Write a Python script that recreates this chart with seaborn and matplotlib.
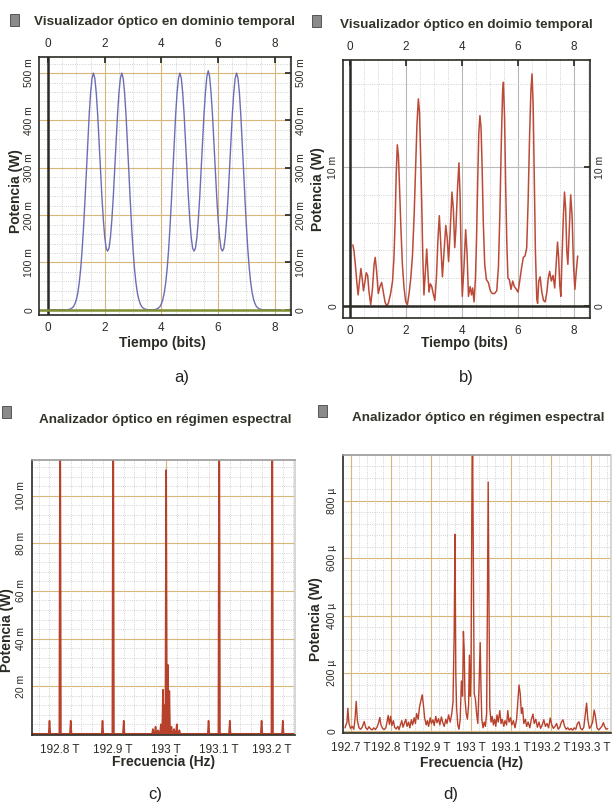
import numpy as np
import pandas as pd
import matplotlib
matplotlib.use('Agg')
import matplotlib.pyplot as plt
import seaborn as sns
from matplotlib.ticker import MultipleLocator, FixedLocator, FuncFormatter
from matplotlib.patches import Rectangle

sns.set_theme(style='white')
plt.rcParams['font.family'] = ['Liberation Sans', 'DejaVu Sans']

# ---- a) señal temporal de entrada (potencia en mW)
a_time = [0.0, 0.70, 0.75, 0.80, 0.85, 0.90, 0.95, 1.00, 1.05, 1.10, 1.15, 1.20, 1.25, 1.30, 1.35,
          1.40, 1.45, 1.50, 1.55, 1.60, 1.65, 1.70, 1.75, 1.80, 1.85, 1.90, 1.95, 2.00, 2.05,
          2.10, 2.15, 2.20, 2.25, 2.30, 2.35, 2.40, 2.45, 2.50, 2.55, 2.60, 2.65, 2.70, 2.75,
          2.80, 2.85, 2.90, 2.95, 3.00, 3.05, 3.10, 3.15, 3.20, 3.25, 3.30, 3.35, 3.40, 3.45,
          3.50, 3.75, 3.80, 3.85, 3.90, 3.95, 4.00, 4.05, 4.10, 4.15, 4.20, 4.25, 4.30, 4.35,
          4.40, 4.45, 4.50, 4.55, 4.60, 4.65, 4.70, 4.75, 4.80, 4.85, 4.90, 4.95, 5.00, 5.05,
          5.10, 5.15, 5.20, 5.25, 5.30, 5.35, 5.40, 5.45, 5.50, 5.55, 5.60, 5.65, 5.70, 5.75,
          5.80, 5.85, 5.90, 5.95, 6.00, 6.05, 6.10, 6.15, 6.20, 6.25, 6.30, 6.35, 6.40, 6.45,
          6.50, 6.55, 6.60, 6.65, 6.70, 6.75, 6.80, 6.85, 6.90, 6.95, 7.00, 7.05, 7.10, 7.15,
          7.20, 7.25, 7.30, 7.35, 7.40, 7.45, 7.50, 7.55, 8.20]
a_power = [0, 0, 1, 2, 4, 7, 13, 22, 36, 57, 86, 125, 173, 229, 291,
           353, 411, 458, 489, 500, 489, 458, 412, 355, 295, 238, 190, 153, 130,
           124, 130, 153, 190, 238, 295, 355, 412, 458, 489, 500, 489, 458, 411,
           353, 291, 229, 173, 125, 86, 57, 36, 22, 13, 7, 4, 2, 1,
           0, 0, 1, 2, 4, 7, 13, 22, 36, 57, 86, 125, 173, 229,
           291, 353, 411, 458, 489, 500, 489, 458, 412, 355, 295, 238, 190, 153,
           130, 124, 130, 153, 190, 238, 295, 355, 412, 458, 492, 505, 492, 458,
           412, 355, 295, 238, 190, 153, 130, 124, 130, 153, 190, 238, 295, 355,
           412, 458, 489, 500, 489, 458, 411, 353, 291, 229, 173, 125, 86, 57,
           36, 22, 13, 7, 4, 2, 1, 0, 0]

# ---- b) señal temporal a la salida (potencia en mW)
b_time = [0.10, 0.14, 0.19, 0.24, 0.29, 0.34, 0.39, 0.44, 0.48, 0.53, 0.58, 0.63, 0.68, 0.74,
          0.80, 0.86, 0.90, 0.95, 1.01, 1.07, 1.13, 1.19, 1.25, 1.31, 1.37, 1.45, 1.52, 1.57,
          1.61, 1.65, 1.69, 1.73, 1.77, 1.82, 1.87, 1.93, 1.99, 2.05, 2.11, 2.17, 2.23, 2.29,
          2.34, 2.39, 2.44, 2.48, 2.52, 2.56, 2.60, 2.64, 2.69, 2.74, 2.78, 2.82, 2.87, 2.92,
          2.97, 3.03, 3.09, 3.14, 3.19, 3.24, 3.30, 3.36, 3.42, 3.47, 3.52, 3.58, 3.64, 3.69,
          3.74, 3.78, 3.84, 3.89, 3.93, 3.97, 4.01, 4.07, 4.13, 4.18, 4.23, 4.29, 4.34, 4.38,
          4.43, 4.48, 4.52, 4.56, 4.60, 4.64, 4.68, 4.72, 4.76, 4.81, 4.87, 4.94, 5.01, 5.08,
          5.16, 5.24, 5.30, 5.35, 5.40, 5.45, 5.48, 5.52, 5.56, 5.60, 5.64, 5.69, 5.75, 5.81,
          5.87, 5.94, 6.00, 6.06, 6.13, 6.19, 6.25, 6.31, 6.36, 6.41, 6.46, 6.50, 6.54, 6.58,
          6.62, 6.67, 6.70, 6.74, 6.79, 6.85, 6.91, 6.97, 7.03, 7.08, 7.13, 7.19, 7.25, 7.31,
          7.36, 7.41, 7.45, 7.49, 7.53, 7.57, 7.62, 7.66, 7.70, 7.74, 7.78, 7.83, 7.88, 7.93,
          7.98, 8.03, 8.08, 8.13]
b_power = [4.4, 4.0, 3.0, 1.8, 0.8, 1.8, 2.7, 1.9, 1.1, 1.7, 2.4, 2.2, 1.0, 0.1,
           1.2, 3.0, 3.5, 2.5, 0.9, 1.4, 1.7, 1.0, 0.3, 0.0, 0.2, 0.9, 1.8, 3.5,
           6.0, 9.5, 11.6, 10.8, 8.5, 5.5, 3.0, 1.3, 0.3, 0.1, 0.9, 2.0, 3.6, 6.5,
           9.8, 13.0, 14.9, 14.0, 11.0, 7.5, 3.5, 0.8, 2.5, 4.1, 2.5, 1.0, 1.6, 1.4,
           0.9, 0.4, 2.2, 4.8, 6.5, 4.5, 2.1, 4.0, 5.8, 4.9, 3.2, 5.5, 8.2, 7.0,
           4.2, 5.5, 8.5, 10.3, 8.0, 3.5, 0.7, 2.8, 5.5, 3.8, 0.7, 1.4, 0.8, 1.3,
           0.3, 2.0, 5.0, 9.0, 12.5, 13.7, 12.8, 9.8, 6.0, 3.0, 1.9, 1.7, 1.1, 0.9,
           0.9, 1.1, 2.8, 6.5, 11.5, 15.5, 16.1, 13.5, 8.5, 4.5, 2.0, 1.9, 1.2, 1.8,
           1.4, 1.2, 1.0, 1.8, 2.8, 3.5, 3.6, 4.2, 7.5, 12.0, 15.5, 16.7, 14.5, 9.0,
           4.0, 0.5, 0.2, 1.8, 2.1, 1.0, 0.4, 0.3, 1.0, 2.0, 2.5, 1.8, 2.2, 1.3,
           3.0, 4.6, 3.5, 1.5, 0.7, 3.5, 6.5, 8.2, 7.0, 4.0, 3.0, 5.5, 8.0, 6.5,
           3.0, 1.2, 2.5, 3.6]

# ---- c) espectro de entrada: rayas (THz, mW)
c_freq = [192.78, 192.80, 192.82, 192.88, 192.90, 192.92, 192.975, 192.980, 192.985,
          192.990, 192.994, 192.997, 193.000, 193.003, 193.006, 193.010, 193.015, 193.020,
          193.025, 193.08, 193.10, 193.12, 193.18, 193.20, 193.22]
c_power = [5.5, 150, 5.5, 5.5, 150, 5.5, 2.0, 3.0, 1.5,
           4.0, 18.5, 12.0, 110.8, 29.0, 18.0, 3.0, 2.0, 4.0,
           1.5, 5.5, 150, 5.5, 5.5, 150, 5.5]

# ---- d) espectro de salida (THz, µW)
d_freq = [192.685, 192.690, 192.692, 192.695, 192.699, 192.703, 192.707, 192.710, 192.713,
          192.716, 192.720, 192.724, 192.728, 192.733, 192.737, 192.741, 192.745, 192.749,
          192.753, 192.757, 192.761, 192.765, 192.769, 192.772, 192.775, 192.779, 192.783,
          192.787, 192.790, 192.793, 192.796, 192.799, 192.802, 192.806, 192.809, 192.813,
          192.817, 192.820, 192.824, 192.827, 192.830, 192.834, 192.837, 192.840, 192.844,
          192.847, 192.851, 192.854, 192.858, 192.861, 192.864, 192.868, 192.871, 192.875,
          192.878, 192.881, 192.884, 192.888, 192.891, 192.894, 192.898, 192.901, 192.905,
          192.908, 192.912, 192.915, 192.919, 192.922, 192.926, 192.929, 192.933, 192.937,
          192.940, 192.944, 192.948, 192.952, 192.955, 192.958, 192.960, 192.962, 192.964,
          192.967, 192.970, 192.973, 192.976, 192.979, 192.981, 192.983, 192.985, 192.988,
          192.991, 192.994, 192.996, 192.998, 193.000, 193.002, 193.004, 193.006, 193.008,
          193.011, 193.014, 193.017, 193.020, 193.023, 193.025, 193.027, 193.030, 193.033,
          193.036, 193.039, 193.041, 193.043, 193.045, 193.047, 193.050, 193.053, 193.056,
          193.059, 193.062, 193.065, 193.068, 193.072, 193.075, 193.078, 193.082, 193.085,
          193.089, 193.092, 193.095, 193.099, 193.102, 193.106, 193.110, 193.114, 193.117,
          193.120, 193.123, 193.126, 193.129, 193.132, 193.136, 193.139, 193.143, 193.147,
          193.151, 193.155, 193.158, 193.162, 193.166, 193.170, 193.174, 193.178, 193.182,
          193.186, 193.190, 193.194, 193.198, 193.202, 193.206, 193.210, 193.214, 193.218,
          193.222, 193.226, 193.230, 193.234, 193.238, 193.242, 193.246, 193.250, 193.254,
          193.258, 193.262, 193.266, 193.270, 193.274, 193.278, 193.282, 193.286, 193.289,
          193.292, 193.296, 193.300, 193.304, 193.308, 193.311, 193.315, 193.319, 193.323,
          193.327, 193.331, 193.334, 193.338, 193.342]
d_power = [10, 30, 78, 25, 8, 15, 5, 40, 102,
           35, 10, 5, 12, 32, 10, 4, 14, 6,
           3, 10, 4, 12, 28, 46, 20, 8, 4,
           10, 30, 53, 22, 50, 18, 35, 12, 6,
           15, 4, 22, 35, 12, 28, 40, 15, 30,
           10, 38, 20, 45, 25, 60, 40, 80, 105,
           125, 90, 45, 20, 35, 15, 45, 25, 38,
           18, 50, 28, 42, 20, 48, 30, 15, 40,
           25, 55, 30, 60, 100, 345, 684, 200, 80,
           20, 5, 40, 173, 120, 346, 280, 110, 60,
           40, 90, 263, 120, 200, 730, 1000, 540, 130,
           110, 60, 25, 150, 307, 150, 40, 10, 30,
           15, 60, 436, 866, 436, 80, 30, 50, 20,
           40, 15, 55, 30, 70, 25, 40, 15, 35,
           20, 70, 30, 45, 20, 35, 10, 40, 100,
           159, 130, 60, 80, 25, 40, 15, 30, 10,
           40, 58, 25, 40, 12, 30, 8, 20, 38,
           15, 25, 10, 44, 20, 8, 15, 25, 5,
           12, 30, 38, 15, 5, 10, 3, 8, 2,
           10, 5, 25, 31, 8, 3, 12, 60, 96,
           40, 8, 15, 30, 72, 50, 10, 3, 8,
           15, 28, 15, 5, 8]

titles = ['Visualizador óptico en dominio temporal',
          'Visualizador óptico en doimio temporal',
          'Analizador óptico en régimen espectral',
          'Analizador óptico en régimen espectral']
panel_tags = ['a)', 'b)', 'c)', 'd)']
c_xticks = [192.8, 192.9, 193.0, 193.1, 193.2]
d_xticks = [192.7, 192.8, 192.9, 193.0, 193.1, 193.2, 193.3]

W, H = 613, 807
DARK = '#2b2b25'
TAN = '#d8b679'
MINOR = '#c4c4c4'

fig = plt.figure(figsize=(W / 100, H / 100), dpi=100)
fig.patch.set_facecolor('white')


def box(l, t, r, b):
    # caja en píxeles -> fracciones de la figura
    return [l / W, 1 - b / H, (r - l) / W, (b - t) / H]


def style(ax, major_grid, ysize=7.5):
    ax.set_facecolor('white')
    ax.grid(which='major', color=major_grid, lw=0.8, ls='-')
    ax.grid(which='minor', color=MINOR, lw=0.6, ls=':')
    ax.set_axisbelow(True)
    for s in ax.spines.values():
        s.set_color(DARK)
        s.set_linewidth(1.2)
    ax.tick_params(which='both', colors=DARK, labelsize=8.5, direction='in')
    ax.tick_params(axis='y', labelsize=ysize)
    ax.tick_params(which='major', length=4)
    ax.tick_params(which='minor', length=2)


def milli(v, p):
    return '0' if abs(v) < 1e-9 else f'{v:g} m'


def micro(v, p):
    return '0' if abs(v) < 1e-9 else f'{v:g} µ'


def tera(v, p):
    return f'{v:g} T'


# ---------- a)
ax_a = fig.add_axes(box(39, 57, 291, 315))
df_a = pd.DataFrame({'t': a_time, 'p': a_power})
sns.lineplot(data=df_a, x='t', y='p', ax=ax_a, color='#6d6db4', lw=1.0,
             estimator=None, sort=False)
ax_a.set_xlim(-0.32, 8.57)
ax_a.set_ylim(-11, 534)
ax_a.xaxis.set_major_locator(MultipleLocator(2))
ax_a.xaxis.set_minor_locator(MultipleLocator(0.5))
ax_a.yaxis.set_major_locator(MultipleLocator(100))
ax_a.yaxis.set_minor_locator(MultipleLocator(20))
ax_a.yaxis.set_major_formatter(FuncFormatter(milli))
ax_a.axvline(0, color=DARK, lw=1.8)
ax_a.axhline(0, color='#7f8f33', lw=1.8)
ax_a.tick_params(top=True, right=True, labeltop=True, labelright=True)
style(ax_a, TAN)
ax_a.tick_params(axis='x', pad=5)

# ---------- b)
ax_b = fig.add_axes(box(343, 60, 590, 318))
df_b = pd.DataFrame({'t': b_time, 'p': b_power})
sns.lineplot(data=df_b, x='t', y='p', ax=ax_b, color='#bb4b38', lw=1.1,
             estimator=None, sort=False)
ax_b.set_xlim(-0.25, 8.57)
ax_b.set_ylim(-0.86, 17.7)
ax_b.xaxis.set_major_locator(MultipleLocator(2))
ax_b.xaxis.set_minor_locator(MultipleLocator(0.5))
ax_b.yaxis.set_major_locator(MultipleLocator(10))
ax_b.yaxis.set_minor_locator(MultipleLocator(2))
ax_b.yaxis.set_major_formatter(FuncFormatter(milli))
ax_b.axvline(0, color=DARK, lw=1.8)
ax_b.axhline(0, color=DARK, lw=1.8)
ax_b.tick_params(top=True, right=True, labeltop=True, labelright=True)
style(ax_b, '#b9b9b9')
ax_b.tick_params(axis='x', pad=5)

# ---------- c)  (rayas espectrales construidas a partir de c_freq / c_power)
w = 0.0015
c_x, c_y = [192.747], [0.0]
for f, p in zip(c_freq, c_power):
    c_x += [f - w, f, f + w]
    c_y += [0.0, p, 0.0]
c_x.append(193.243)
c_y.append(0.0)
ax_c = fig.add_axes(box(32, 460, 295, 735))
sns.lineplot(x=c_x, y=c_y, ax=ax_c, color='#b8412c', lw=1.2, estimator=None, sort=False)
ax_c.set_xlim(192.747, 193.243)
ax_c.set_ylim(-0.5, 115)
ax_c.xaxis.set_major_locator(FixedLocator(c_xticks))
ax_c.xaxis.set_minor_locator(MultipleLocator(0.02))
ax_c.xaxis.set_major_formatter(FuncFormatter(tera))
ax_c.yaxis.set_major_locator(FixedLocator([20, 40, 60, 80, 100]))
ax_c.yaxis.set_minor_locator(MultipleLocator(4))
ax_c.yaxis.set_major_formatter(FuncFormatter(milli))
style(ax_c, TAN)
ax_c.spines['top'].set_linestyle((0, (6, 1)))
ax_c.spines['top'].set_color('#9a9a9a')
ax_c.spines['right'].set_color('#cfcfcf')
ax_c.tick_params(which='both', direction='out')
ax_c.tick_params(which='major', length=3)
ax_c.tick_params(axis='y', pad=1)

# ---------- d)
ax_d = fig.add_axes(box(343, 455, 611, 733))
df_d = pd.DataFrame({'f': d_freq, 'p': d_power})
sns.lineplot(data=df_d, x='f', y='p', ax=ax_d, color='#b8412c', lw=1.0,
             estimator=None, sort=False)
ax_d.set_xlim(192.68, 193.35)
ax_d.set_ylim(-8, 960)
ax_d.xaxis.set_major_locator(FixedLocator(d_xticks))
ax_d.xaxis.set_minor_locator(MultipleLocator(0.02))
ax_d.xaxis.set_major_formatter(FuncFormatter(tera))
ax_d.yaxis.set_major_locator(MultipleLocator(200))
ax_d.yaxis.set_minor_locator(MultipleLocator(40))
ax_d.yaxis.set_major_formatter(FuncFormatter(micro))
style(ax_d, TAN)
ax_d.spines['top'].set_linestyle((0, (6, 1)))
ax_d.spines['top'].set_color('#9a9a9a')
ax_d.spines['right'].set_color('#cfcfcf')
ax_d.tick_params(which='both', direction='out')
ax_d.tick_params(which='major', length=3)
ax_d.tick_params(axis='y', pad=1)

# etiquetas de ejes
lab = dict(fontsize=10, fontweight='bold', color=DARK)
for ax, xl, xpos, ypos in [(ax_a, 'Tiempo (bits)', (0.49, -0.108), (-0.09, 0.48)),
                           (ax_b, 'Tiempo (bits)', (0.49, -0.097), (-0.10, 0.5)),
                           (ax_c, 'Frecuencia (Hz)', (0.5, -0.098), (-0.095, 0.38)),
                           (ax_d, 'Frecuencia (Hz)', (0.48, -0.108), (-0.10, 0.41))]:
    ax.set_xlabel(xl, **lab)
    ax.set_ylabel('Potencia (W)', **lab)
    ax.xaxis.set_label_coords(*xpos)
    ax.yaxis.set_label_coords(*ypos)
    ax.xaxis.label.set_va('center')
    ax.yaxis.label.set_va('center')
    for lb in ax.get_yticklabels():
        lb.set_rotation(90)
        lb.set_va('center')

# títulos con su icono
for txt, (cx, cy), (ix, iy) in zip(titles,
                                   [(165, 22), (466, 25), (165, 420), (478, 418)],
                                   [(10, 14), (312, 15), (2, 406), (318, 405)]):
    fig.text(cx / W, 1 - cy / H, txt, ha='center', va='center', fontsize=9.7,
             fontweight='bold', color='#33332a')
    fig.patches.append(Rectangle((ix / W, 1 - (iy + 12) / H), 9 / W, 12 / H,
                                 transform=fig.transFigure, facecolor='#8a8a8a',
                                 edgecolor='#444444', lw=0.6))

for tag, (cx, cy) in zip(panel_tags, [(182, 378), (466, 378), (155, 795), (451, 795)]):
    fig.text(cx / W, 1 - cy / H, tag, ha='center', va='center', fontsize=12, color='#222222')

fig.savefig('out.png', dpi=100, facecolor='white')
